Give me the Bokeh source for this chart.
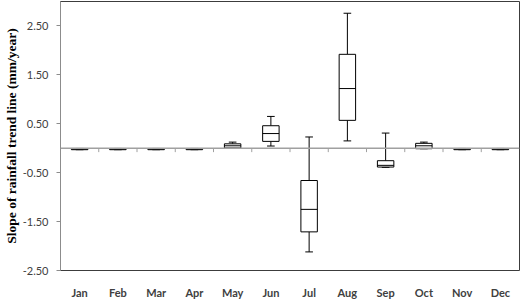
from bokeh.plotting import figure
from bokeh.models import (ColumnDataSource, FactorRange, Range1d, FixedTicker,
                          NumeralTickFormatter, Span)
from bokeh.transform import dodge
from bokeh.embed import file_html
from bokeh.resources import INLINE

months = ["Jan", "Feb", "Mar", "Apr", "May", "Jun",
          "Jul", "Aug", "Sep", "Oct", "Nov", "Dec"]
lower = [-0.03, -0.03, -0.03, -0.03, 0.00, 0.045, -2.12, 0.15, -0.39, -0.01, -0.03, -0.03]
q1 = [-0.03, -0.03, -0.03, -0.03, 0.005, 0.14, -1.71, 0.57, -0.385, -0.01, -0.03, -0.03]
median = [-0.015, -0.015, -0.015, -0.015, 0.05, 0.30, -1.25, 1.22, -0.35, 0.05, -0.015, -0.015]
q3 = [-0.005, -0.005, -0.005, -0.005, 0.09, 0.46, -0.66, 1.92, -0.255, 0.10, -0.005, -0.005]
upper = [-0.005, -0.005, -0.005, -0.005, 0.125, 0.65, 0.23, 2.76, 0.31, 0.125, -0.005, -0.005]
y_ticks = [-2.5, -1.5, -0.5, 0.5, 1.5, 2.5]

src = ColumnDataSource(dict(month=months, lower=lower, q1=q1, median=median,
                            q3=q3, upper=upper))
bsrc = ColumnDataSource(dict(month=months[:-1], zero=[0.0] * 11,
                             tick=[-0.08] * 11))

p = figure(width=520, height=301, x_range=FactorRange(*months),
           y_range=Range1d(-2.5, 3.0), output_backend="svg",
           toolbar_location=None, min_border_left=60, min_border_right=1,
           min_border_top=1, min_border_bottom=29)
p.background_fill_color = "white"
p.border_fill_color = "white"
p.outline_line_color = "#3c3c3c"
p.outline_line_width = 1
p.xgrid.visible = False
p.ygrid.visible = False

# zero line with category-boundary ticks
p.add_layout(Span(location=0, dimension="width", line_color="#a0a0a0", line_width=1.5))
p.segment(x0=dodge("month", 0.5, range=p.x_range), y0="zero",
          x1=dodge("month", 0.5, range=p.x_range), y1="tick",
          source=bsrc, line_color="#a0a0a0", line_width=1)

# whiskers
p.segment(x0="month", y0="q3", x1="month", y1="upper", source=src,
          line_color="black", line_width=1)
p.segment(x0="month", y0="q1", x1="month", y1="lower", source=src,
          line_color="black", line_width=1)
# caps
p.segment(x0=dodge("month", -0.1, range=p.x_range), y0="upper",
          x1=dodge("month", 0.1, range=p.x_range), y1="upper", source=src,
          line_color="black", line_width=1)
p.segment(x0=dodge("month", -0.1, range=p.x_range), y0="lower",
          x1=dodge("month", 0.1, range=p.x_range), y1="lower", source=src,
          line_color="black", line_width=1)
# boxes
p.vbar(x="month", top="q3", bottom="q1", width=0.43, source=src,
       fill_color="white", line_color="black", line_width=1)
# medians
p.segment(x0=dodge("month", -0.215, range=p.x_range), y0="median",
          x1=dodge("month", 0.215, range=p.x_range), y1="median", source=src,
          line_color="black", line_width=1)

# y axis
ya = p.yaxis[0]
ya.ticker = FixedTicker(ticks=y_ticks)
ya.formatter = NumeralTickFormatter(format="0.00")
ya.axis_line_color = "#8c8c8c"
ya.major_tick_line_color = "#8c8c8c"
ya.major_tick_out = 4
ya.major_tick_in = 0
ya.minor_tick_line_color = None
ya.major_label_standoff = 8
ya.major_label_text_font = "Lato"
ya.major_label_text_font_size = "11px"
ya.major_label_text_color = "#404040"
ya.axis_label = "Slope of rainfall trend line (mm/year)"
ya.axis_label_text_font = "Liberation Serif"
ya.axis_label_text_font_style = "bold"
ya.axis_label_text_font_size = "13.5px"
ya.axis_label_text_color = "black"
ya.axis_label_standoff = 1

# x axis
xa = p.xaxis[0]
xa.axis_line_color = None
xa.major_tick_line_color = None
xa.minor_tick_line_color = None
xa.major_label_standoff = 9
xa.major_label_text_font = "Lato"
xa.major_label_text_font_style = "bold"
xa.major_label_text_font_size = "11px"
xa.major_label_text_color = "#404040"

open("out.html", "w").write(file_html(p, INLINE))
